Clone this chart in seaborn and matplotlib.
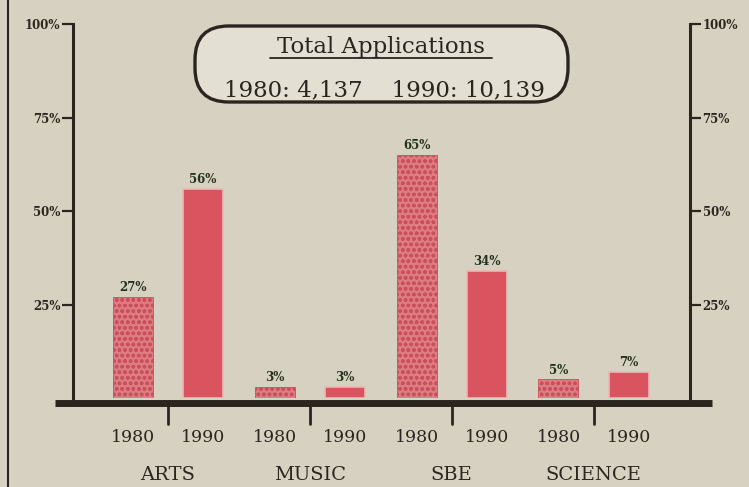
import matplotlib
matplotlib.use("Agg")
import matplotlib.pyplot as plt
import pandas as pd
import seaborn as sns
from matplotlib.patches import FancyBboxPatch
from matplotlib.lines import Line2D

categories = ["ARTS", "MUSIC", "SBE", "SCIENCE"]
years = ["1980", "1990"]
share_1980 = [27, 3, 65, 5]
share_1990 = [56, 3, 34, 7]
totals = {"1980": "4,137", "1990": "10,139"}
ytick_values = [25, 50, 75, 100]

BG = "#d6d1c0"
INK = "#2a261f"
RED_1990 = "#d9545e"
RED_1980 = "#dd7c82"

df = pd.DataFrame({
    "category": categories * 2,
    "year": [years[0]] * len(categories) + [years[1]] * len(categories),
    "share": share_1980 + share_1990,
})

sns.set_theme(style="white")
plt.rcParams["font.family"] = ["DejaVu Serif"]

W, H = 749, 487
fig = plt.figure(figsize=(W / 100, H / 100), dpi=100, facecolor=BG)
# axes between the two vertical scales, 0% at the baseline
ax = fig.add_axes([73 / W, (H - 398) / H, (690 - 73) / W, (398 - 24) / H])
ax.set_facecolor("none")

sns.barplot(data=df, x="category", y="share", hue="year", order=categories,
            hue_order=years, palette=[RED_1980, RED_1990], width=0.99, gap=0.43,
            saturation=1, ax=ax, legend=False, errorbar=None)

cont80, cont90 = ax.containers[0], ax.containers[1]
for p in cont80:
    p.set_hatch("ooo")
    p.set_edgecolor("#c9505a")
    p.set_linewidth(0.6)
for p in cont90:
    p.set_edgecolor("#e9b8b4")
    p.set_linewidth(1.2)

for cont in ax.containers:
    ax.bar_label(cont, labels=[f"{int(v)}%" for v in cont.datavalues], padding=2,
                 fontsize=8.5, fontweight="bold", color="#26301f")

ax.set_xlim(-0.67, 3.68)
ax.set_ylim(0, 100)
ax.set_xlabel("")
ax.set_ylabel("")

# both vertical scales
for s in ["top", "bottom"]:
    ax.spines[s].set_visible(False)
for s in ["left", "right"]:
    ax.spines[s].set_color(INK)
    ax.spines[s].set_linewidth(2.2)
ax.set_yticks(ytick_values)
ax.set_yticklabels([f"{v}%" for v in ytick_values], fontsize=8.5, color=INK, fontweight="bold")
ax.tick_params(axis="y", left=True, right=True, labelleft=True, labelright=True,
               length=8, width=1.6, color=INK, pad=1)
ax.tick_params(axis="x", bottom=False, labelbottom=False)

# baseline, extending past both scales
bx0, bx1 = (55 - 73) / (690 - 73), (712 - 73) / (690 - 73)
ax.add_line(Line2D([bx0, bx1], [-0.013, -0.013], transform=ax.transAxes,
                   color=INK, linewidth=5, clip_on=False, solid_capstyle="butt"))

# group ticks and labels below the baseline
trans = ax.get_xaxis_transform()
for i, cat in enumerate(categories):
    ax.add_line(Line2D([i, i], [-0.02, -0.07], transform=trans, color=INK,
                       linewidth=2, clip_on=False))
    ax.text(i - 0.247, -0.105, years[0], transform=trans, ha="center", va="center",
            fontsize=12.5, color=INK)
    ax.text(i + 0.247, -0.105, years[1], transform=trans, ha="center", va="center",
            fontsize=12.5, color=INK)
    ax.text(i, -0.205, cat, transform=trans, ha="center", va="center",
            fontsize=14, color=INK)

# title box
bx, by, bw, bh = 195 / W, (H - 102) / H, (568 - 195) / W, (102 - 26) / H
box = FancyBboxPatch((bx, by), bw, bh, boxstyle="round,pad=0,rounding_size=0.045",
                     transform=fig.transFigure, facecolor="#e3dfd2", edgecolor=INK,
                     linewidth=2.4, mutation_aspect=W / H)
fig.patches.append(box)
fig.text(381 / W, (H - 47) / H, "Total Applications", ha="center", va="center",
         fontsize=16.5, color=INK)
fig.add_artist(Line2D([270 / W, 492 / W], [(H - 58) / H] * 2, color=INK, linewidth=1.3))
fig.text(384 / W, (H - 90) / H,
         f"{years[0]}: {totals['1980']}    {years[1]}: {totals['1990']}",
         ha="center", va="center", fontsize=16.5, color=INK)

# left edge of the clipping
fig.add_artist(Line2D([8 / W, 8 / W], [0, 1], color=INK, linewidth=1.5))

fig.savefig("out.png", dpi=100, facecolor=BG)
